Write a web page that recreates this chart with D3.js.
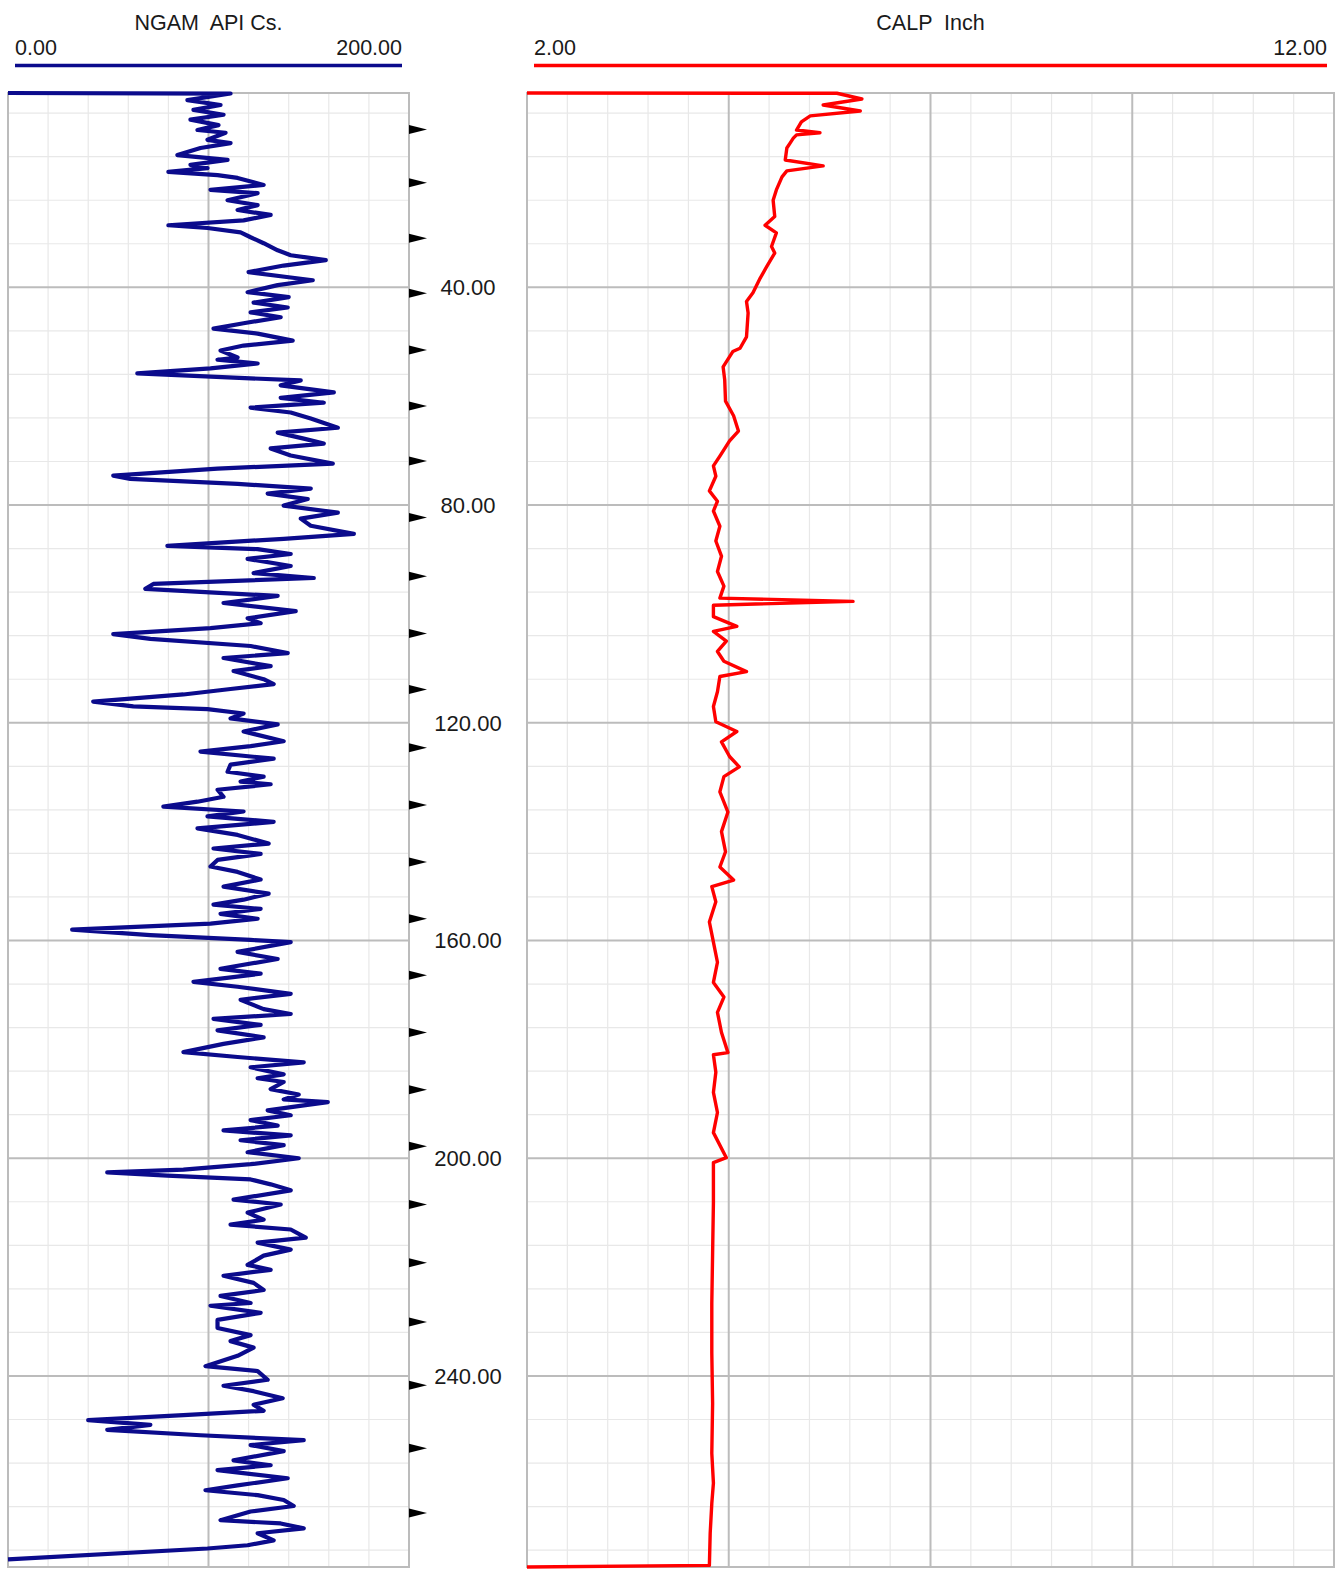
<!DOCTYPE html>
<html>
<head>
<meta charset="utf-8">
<script src="https://cdn.jsdelivr.net/npm/d3@7"></script>
<style>
  body { margin: 0; background: #fff; }
  text { font-family: "Liberation Sans", Arial, sans-serif; fill: #1a1a1a; white-space: pre; }
</style>
</head>
<body>
<script>
//Size of the page / svg
var width = 1344;
var height = 1571;

//Curve headers (name, unit, scale limits)
var gamTitle = "NGAM  API Cs.";
var gamRange = [0, 200];
var calTitle = "CALP  Inch";
var calRange = [2, 12];

//Depth interval shown and depth tick labels
var depthRange = [4.3, 275.1];
var depthLabels = [40, 80, 120, 160, 200, 240];

//Depths of the black triangle markers beside the depth track
var markerDepths = [11.0, 20.8, 31.0, 41.1, 51.5, 61.8, 71.9, 82.3, 93.1, 103.6, 113.9, 124.6,
  135.1, 145.6, 156.0, 166.4, 176.9, 187.4, 197.8, 208.5, 219.2, 230.1, 241.7, 253.3, 265.2];

//Gamma ray log: [depth, API]
var ngamData = [
  [4.3,0],[4.4,111],[5.6,89.5],[6.5,106],[7.4,92.5],[8.3,107.5],[9.2,91],[10.2,105],[11.1,94.5],
  [11.6,108.5],[12.9,99.5],[13.5,111],[14.4,96],[15.7,84.5],[16.6,109.5],[17.5,91],[18.1,99.5],
  [18.8,80],[19.4,104.5],[19.9,114.5],[21.2,127.5],[22.1,101],[22.7,124.5],[24.0,109.5],[24.9,124.5],
  [25.8,114.5],[26.7,131],[27.7,117.5],[28.6,80],[29.1,99.5],[29.9,116],[30.8,121],[31.9,127.5],
  [33.2,134.5],[34.1,141],[35.0,158.5],[36.0,137.5],[37.2,120],[38.2,141],[38.7,152],[39.6,134.5],
  [40.9,119.5],[41.8,140],[42.8,122.5],[43.7,139.5],[44.6,121],[45.5,136],[46.6,117.5],[47.6,102.5],
  [48.5,124.5],[49.8,142],[50.7,117.5],[51.6,106],[52.9,114.5],[53.3,104.5],[54.0,124.5],[54.9,101],
  [55.8,64.5],[56.6,112.5],[57.1,146],[58.0,136],[59.3,162.5],[60.3,136],[61.2,157.5],[62.1,121],
  [63.0,141],[64.1,151],[65.8,164.5],[66.7,134.5],[67.8,147.5],[68.7,157.5],[69.6,131],[70.9,141],
  [72.4,162],[73.3,104.5],[74.6,52.5],[75.2,61],[76.1,114.5],[77.0,151],[77.9,129.5],[78.9,149.5],
  [80.1,137.5],[81.4,164.5],[82.5,146],[83.8,151],[85.3,172.5],[86.2,137.5],[87.5,79.5],[88.1,124.5],
  [89.0,141],[89.9,119.5],[91.2,141],[92.5,122.5],[93.4,152.5],[94.5,72.5],[95.4,68.5],[96.7,134.5],
  [98.0,107.5],[99.5,143.5],[100.8,119.5],[101.7,126],[102.6,101],[103.7,52.5],[104.6,71],[105.9,121],
  [107.2,139.5],[108.1,107.5],[109.6,131],[110.5,112.5],[112.0,127.5],[112.9,132.5],[113.8,111],
  [114.8,87.5],[116.1,42.5],[117.0,62.5],[117.5,99.5],[118.3,117.5],[119.2,111],[120.3,134.5],
  [121.6,117.5],[123.4,137.5],[124.3,121],[125.3,96],[126.6,132.5],[127.7,111],[129.0,109.5],
  [129.9,127.5],[130.8,116],[131.3,131],[132.3,104.5],[133.6,107.5],[134.5,94.5],[135.4,77.5],
  [136.3,117.5],[137.2,99.5],[138.2,132.5],[139.4,94.5],[140.6,114.5],[142.2,130],[143.1,102.5],
  [144.1,126],[145.2,104.5],[146.4,101],[147.4,114.5],[148.8,126],[150.1,107.5],[151.4,130],
  [152.5,117.5],[153.4,102.5],[154.2,126],[155.1,106],[156.0,124.5],[156.9,101],[158.0,32],[159.0,71],
  [159.9,121],[160.3,141],[162.1,114.5],[163.4,134.5],[165.2,106],[166.1,126],[167.6,92.5],[168.5,114.5],
  [169.8,141],[170.9,116],[172.6,127.5],[173.5,141],[174.4,102.5],[175.5,126],[176.5,104.5],[177.8,127.5],
  [179.0,107.5],[180.5,87.5],[181.4,114.5],[182.4,147.5],[183.3,121],[184.6,137.5],[185.3,124.5],
  [186.0,137.5],[187.3,131],[188.3,145],[189.2,137.5],[189.7,159.5],[190.3,147.5],[191.2,129.5],
  [192.1,141],[193.0,121],[194.0,134.5],[194.9,107.5],[195.8,141],[196.7,116],[197.6,137.5],[198.9,119.5],
  [200.0,145],[201.1,121],[202.1,87.5],[202.6,49.5],[203.2,79.5],[203.9,121],[204.8,131],[205.9,141],
  [207.6,112.5],[208.5,136],[210.0,119.5],[211.3,127.5],[212.2,111],[213.1,141],[214.6,148.5],
  [215.5,124.5],[216.8,141],[217.9,127.5],[219.6,119.5],[220.5,131],[221.6,107.5],[222.9,122.5],
  [224.2,127.5],[225.3,106],[226.6,121],[227.1,101],[228.4,126],[229.7,104.5],[231.2,104.5],[232.5,121],
  [233.6,111],[234.8,122.5],[236.3,114.5],[238.2,98.5],[239.1,124.5],[240.7,129.5],[241.8,107.5],
  [242.8,122.5],[244.1,137],[245.3,122.5],[246.4,127.5],[247.2,87.5],[248.1,40],[249.0,71],[249.9,49.5],
  [250.9,96],[251.8,147.5],[252.7,121],[253.8,137.5],[255.5,112.5],[256.4,131],[257.3,104.5],
  [258.8,139.5],[260.1,114.5],[261.0,98.5],[261.9,124.5],[262.8,137.5],[263.9,142.5],[264.9,121],
  [266.5,106],[267.1,136],[268.0,147.5],[268.9,124.5],[270.2,132.5],[271.1,119.5],[271.7,99.5],[273.7,0]
];

//Caliper log: [depth, inch]
var calpData = [
  [4.3,2.0],[4.35,5.84],[5.4,6.15],[6.5,5.67],[7.6,6.13],[8.5,5.51],[9.6,5.40],[11.1,5.34],[11.6,5.63],
  [12.0,5.34],[12.6,5.30],[13.5,5.26],[14.4,5.22],[16.6,5.20],[17.7,5.67],[18.6,5.22],[19.7,5.16],
  [22.1,5.09],[24.0,5.05],[27.0,5.07],[28.6,4.95],[30.0,5.09],[32.5,5.03],[33.7,5.07],[36.2,4.97],
  [38.3,4.89],[41.0,4.80],[42.6,4.72],[44.7,4.74],[49.1,4.72],[51.2,4.64],[51.8,4.55],[54.6,4.43],
  [57.0,4.45],[60.9,4.46],[63.6,4.56],[66.4,4.62],[68.2,4.51],[71.0,4.39],[72.8,4.31],[74.7,4.34],
  [77.4,4.26],[79.3,4.36],[81.1,4.31],[83.9,4.39],[86.6,4.34],[89.4,4.41],[92.2,4.36],[94.9,4.44],
  [97.1,4.39],[97.7,6.04],[98.4,4.31],[100.5,4.31],[102.3,4.60],[103.2,4.31],[105.0,4.47],[106.9,4.36],
  [108.7,4.44],[110.6,4.72],[111.5,4.39],[114.3,4.36],[117.0,4.31],[119.8,4.34],[121.6,4.60],[123.5,4.41],
  [126.2,4.51],[128.1,4.63],[129.9,4.44],[132.7,4.39],[136.4,4.49],[140.0,4.41],[143.7,4.46],[146.5,4.39],
  [148.9,4.56],[150.1,4.29],[152.9,4.34],[156.6,4.26],[160.3,4.31],[164.0,4.36],[167.7,4.31],[170.4,4.44],
  [173.2,4.36],[176.9,4.41],[180.6,4.49],[181.0,4.31],[184.2,4.34],[187.9,4.31],[191.6,4.36],[195.3,4.31],
  [199.9,4.47],[200.8,4.31],[208.2,4.31],[217.4,4.30],[226.6,4.29],[235.8,4.29],[245.0,4.30],[254.2,4.29],
  [259.7,4.31],[263.4,4.29],[268.9,4.27],[274.8,4.26],[275.1,2.0]
];

//Colors
var gamColor = "#0b0b8c";
var calColor = "#ff0000";
var majorGrid = "#bcbcbc";
var minorGrid = "#e8e8e8";

//Scales
var y = d3.scaleLinear().domain(depthRange).range([93, 1567]);
var xGam = d3.scaleLinear().domain(gamRange).range([8, 409]);
var xCal = d3.scaleLinear().domain(calRange).range([527, 1334]);

var svg = d3.select("body").append("svg")
  .attr("width", width)
  .attr("height", height)
  .style("background", "#fff");

//Depth ticks: minor every 8, major every 40
var minorDepths = d3.range(8, depthRange[1], 8).filter(function(d){ return d % 40 != 0; });

//Draws the grid and frame of one track
function drawTrack(x, minorStep, majorStep){
  var g = svg.append("g");
  var x0 = x.range()[0], x1 = x.range()[1];
  var dom = x.domain();
  var vMinor = d3.range(dom[0] + minorStep, dom[1] - 1e-6, minorStep)
    .filter(function(v){ return Math.abs(((v - dom[0]) / majorStep) - Math.round((v - dom[0]) / majorStep)) > 1e-6; });
  var vMajor = d3.range(dom[0] + majorStep, dom[1] - 1e-6, majorStep);

  g.selectAll(".vmin").data(vMinor).enter().append("line")
    .attr("x1", x).attr("x2", x).attr("y1", y(depthRange[0])).attr("y2", y(depthRange[1]))
    .attr("stroke", minorGrid).attr("stroke-width", 1.2);
  g.selectAll(".hmin").data(minorDepths).enter().append("line")
    .attr("x1", x0).attr("x2", x1).attr("y1", y).attr("y2", y)
    .attr("stroke", minorGrid).attr("stroke-width", 1.2);
  g.selectAll(".vmaj").data(vMajor).enter().append("line")
    .attr("x1", x).attr("x2", x).attr("y1", y(depthRange[0])).attr("y2", y(depthRange[1]))
    .attr("stroke", majorGrid).attr("stroke-width", 2);
  g.selectAll(".hmaj").data(depthLabels).enter().append("line")
    .attr("x1", x0).attr("x2", x1).attr("y1", y).attr("y2", y)
    .attr("stroke", majorGrid).attr("stroke-width", 2);
  //frame
  g.append("rect")
    .attr("x", x0).attr("y", y(depthRange[0]))
    .attr("width", x1 - x0).attr("height", y(depthRange[1]) - y(depthRange[0]))
    .attr("fill", "none").attr("stroke", majorGrid).attr("stroke-width", 2);
}

drawTrack(xGam, 20, 100);
drawTrack(xCal, 0.5, 2.5);

//Curve headers
function drawHeader(x, title, range, color){
  var x0 = x.range()[0] + 7, x1 = x.range()[1] - 7;
  svg.append("text").attr("x", (x.range()[0] + x.range()[1]) / 2).attr("y", 30)
    .attr("text-anchor", "middle").attr("font-size", "21.5px").text(title);
  svg.append("text").attr("x", x0).attr("y", 55).attr("font-size", "21.5px").text(range[0].toFixed(2));
  svg.append("text").attr("x", x1).attr("y", 55).attr("text-anchor", "end")
    .attr("font-size", "21.5px").text(range[1].toFixed(2));
  svg.append("line").attr("x1", x0).attr("x2", x1).attr("y1", 65.5).attr("y2", 65.5)
    .attr("stroke", color).attr("stroke-width", 3.5);
}
drawHeader(xGam, gamTitle, gamRange, gamColor);
drawHeader(xCal, calTitle, calRange, calColor);

//Curves
var gamLine = d3.line().x(function(d){ return xGam(d[1]); }).y(function(d){ return y(d[0]); });
var calLine = d3.line().x(function(d){ return xCal(d[1]); }).y(function(d){ return y(d[0]); });

svg.append("path").datum(ngamData).attr("d", gamLine)
  .attr("fill", "none").attr("stroke", gamColor).attr("stroke-width", 4.2)
  .attr("stroke-linejoin", "round");
svg.append("path").datum(calpData).attr("d", calLine)
  .attr("fill", "none").attr("stroke", calColor).attr("stroke-width", 3.4)
  .attr("stroke-linejoin", "round");

//Depth track: triangle markers and labels
var trackEdge = xGam.range()[1];
svg.selectAll(".marker").data(markerDepths).enter().append("path")
  .attr("d", function(d){
    var p = d3.path();
    p.moveTo(trackEdge, y(d) - 4.5);
    p.lineTo(trackEdge + 18, y(d));
    p.lineTo(trackEdge, y(d) + 4.5);
    p.closePath();
    return p.toString();
  })
  .attr("fill", "#000");

svg.selectAll(".dlabel").data(depthLabels).enter().append("text")
  .attr("x", 468).attr("y", function(d){ return y(d) + 8; })
  .attr("text-anchor", "middle").attr("font-size", "22px")
  .text(function(d){ return d.toFixed(2); });
</script>
</body>
</html>
